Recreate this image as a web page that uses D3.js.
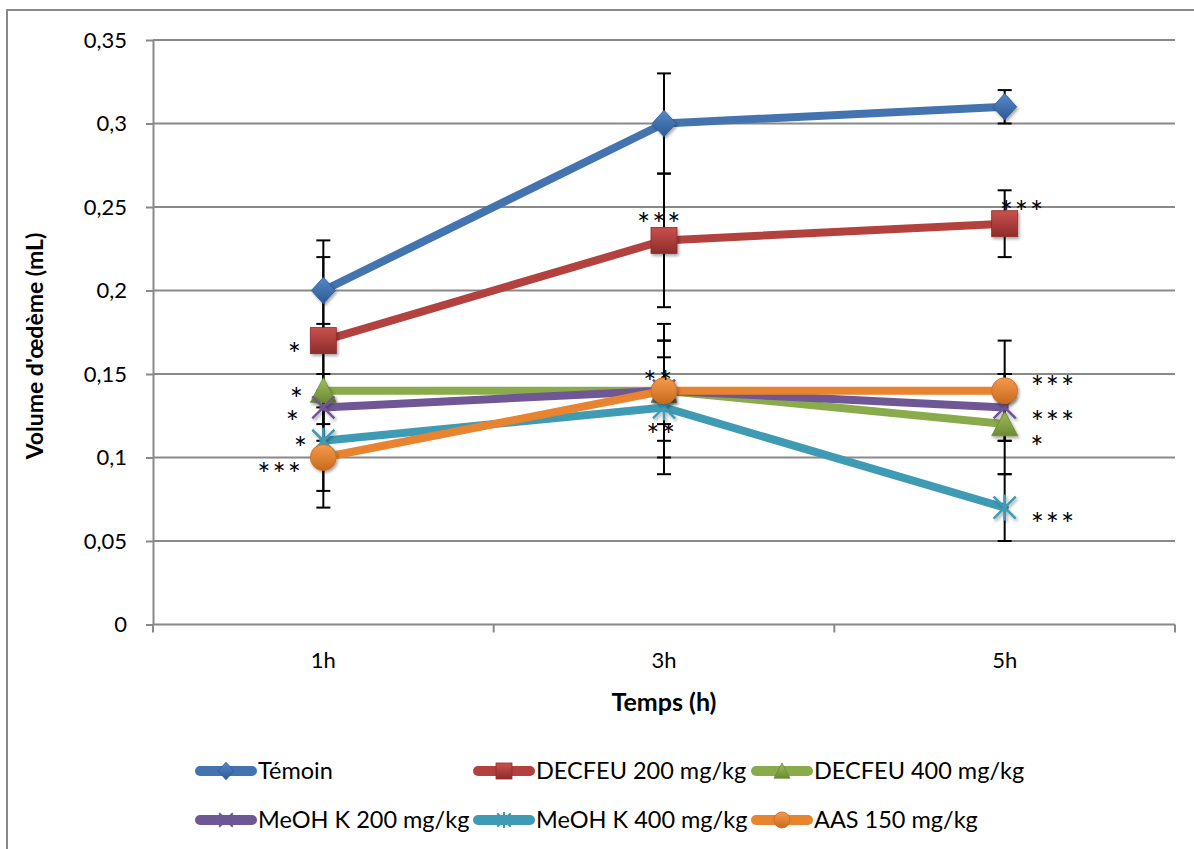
<!DOCTYPE html>
<html>
<head>
<meta charset="utf-8">
<script src="https://cdn.jsdelivr.net/npm/d3@7"></script>
<style>
  html, body { margin: 0; padding: 0; background: #fff; }
  svg { display: block; }
  text { font-family: Lato, "Open Sans", sans-serif; fill: #000; }
</style>
</head>
<body>
<svg id="chart" width="1194" height="849"></svg>
<script>
// ---------- DATA ----------
const categories = ["1h", "3h", "5h"];
const seriesNames = ["Témoin", "DECFEU 200 mg/kg", "DECFEU 400 mg/kg", "MeOH K 200 mg/kg", "MeOH K 400 mg/kg", "AAS 150 mg/kg"];
const temoin     = [0.20, 0.30, 0.31];
const decfeu200  = [0.17, 0.23, 0.24];
const decfeu400  = [0.14, 0.14, 0.12];
const meoh200    = [0.13, 0.14, 0.13];
const meoh400    = [0.11, 0.13, 0.07];
const aas150     = [0.10, 0.14, 0.14];
const errTemoin    = [0.03, 0.03, 0.01];
const errDecfeu200 = [0.05, 0.04, 0.02];
const errDecfeu400 = [0.04, 0.04, 0.03];
const errMeoh200   = [0.02, 0.02, 0.02];
const errMeoh400   = [0.03, 0.04, 0.02];
const errAas150    = [0.03, 0.03, 0.03];
const sigTemoin    = ["", "", ""];
const sigDecfeu200 = ["*", "***", "***"];
const sigDecfeu400 = ["*", "", "*"];
const sigMeoh200   = ["*", "**", "***"];
const sigMeoh400   = ["*", "**", "***"];
const sigAas150    = ["***", "", "***"];
const yTicks = [0, 0.05, 0.1, 0.15, 0.2, 0.25, 0.3, 0.35];
const yTitle = "Volume d'œdème (mL)";
const xTitle = "Temps (h)";

// ---------- STYLE ----------
const styles = [
  { line: "#4374b0", light: "#5589c8", dark: "#2d5a94", marker: "diamond" },
  { line: "#b3423f", light: "#c9514e", dark: "#8e2c2a", marker: "square" },
  { line: "#8aab4b", light: "#a0c05e", dark: "#6c8a33", marker: "triangle" },
  { line: "#6f5694", light: "#8266a6", dark: "#5a437c", marker: "x" },
  { line: "#3f9bb4", light: "#4fb0ca", dark: "#2f8099", marker: "star" },
  { line: "#e8832f", light: "#f49a4e", dark: "#c96a1c", marker: "circle" }
];
// visible-centre offsets of significance labels from their point [dx, dy]
const labelPlacement = [
  [null, null, null],
  [[-28, 6], [-5, -23], [17, -19]],
  [[-26, 1], null, [33, 16]],
  [[-30, 8], [-6, -16], [48, 8]],
  [[-22, 0], [-3, 21], [48, 9]],
  [[-44, 9], null, [48, -11]]
];

const values = [temoin, decfeu200, decfeu400, meoh200, meoh400, aas150];
const errors = [errTemoin, errDecfeu200, errDecfeu400, errMeoh200, errMeoh400, errAas150];
const sigs = [sigTemoin, sigDecfeu200, sigDecfeu400, sigMeoh200, sigMeoh400, sigAas150];
const series = seriesNames.map((name, i) => ({
  name, i, style: styles[i],
  points: categories.map((c, j) => ({ c, j, v: values[i][j], e: errors[i][j], sig: sigs[i][j] }))
}));

// ---------- LAYOUT ----------
const svg = d3.select("#chart");
const X0 = 153, X1 = 1175, Y0 = 624.5, Y1 = 40;
const x = d3.scalePoint().domain(categories).range([X0, X1]).padding(0.5);
const y = d3.scaleLinear().domain([0, 0.35]).range([Y0, Y1]);
const grey = "#898989";

const defs = svg.append("defs");
series.forEach(s => {
  const g = defs.append("linearGradient").attr("id", "grad" + s.i)
    .attr("x1", 0).attr("y1", 0).attr("x2", 0).attr("y2", 1);
  g.append("stop").attr("offset", "0%").attr("stop-color", s.style.light);
  g.append("stop").attr("offset", "100%").attr("stop-color", s.style.dark);
});
const f = defs.append("filter").attr("id", "shadow").attr("x", "-50%").attr("y", "-50%").attr("width", "200%").attr("height", "200%");
f.append("feDropShadow").attr("dx", 1.5).attr("dy", 2).attr("stdDeviation", 1.5).attr("flood-color", "#000").attr("flood-opacity", 0.35);

// outer border
svg.append("rect").attr("x", 7).attr("y", 10).attr("width", 1300).attr("height", 1000)
  .attr("fill", "#fff").attr("stroke", grey).attr("stroke-width", 2);

// gridlines
svg.append("g").attr("class", "grid")
  .selectAll("line").data(yTicks.filter(t => t > 0)).join("line")
  .attr("x1", X0).attr("x2", X1)
  .attr("y1", d => y(d)).attr("y2", d => y(d))
  .attr("stroke", grey).attr("stroke-width", 2);

// y axis
const fmt = d => String(+d.toFixed(2)).replace(".", ",");
const yAxis = svg.append("g").attr("transform", `translate(${X0},0)`)
  .call(d3.axisLeft(y).tickValues(yTicks).tickFormat(fmt).tickSizeInner(7).tickSizeOuter(0).tickPadding(19));
yAxis.select(".domain").attr("stroke", grey).attr("stroke-width", 2);
yAxis.selectAll(".tick line").attr("stroke", grey).attr("stroke-width", 2);
yAxis.selectAll(".tick text").attr("font-family", "Lato").attr("font-size", 22).attr("fill", "#000");

// x axis
const xAxisG = svg.append("g");
xAxisG.append("line").attr("x1", X0).attr("x2", X1).attr("y1", Y0).attr("y2", Y0)
  .attr("stroke", grey).attr("stroke-width", 2);
const step = x.step();
const bounds = [0, 1, 2, 3].map(k => X0 + k * step);
xAxisG.selectAll("line.tk").data(bounds).join("line").attr("class", "tk")
  .attr("x1", d => d).attr("x2", d => d).attr("y1", Y0).attr("y2", Y0 + 8)
  .attr("stroke", grey).attr("stroke-width", 2);
xAxisG.selectAll("text").data(categories).join("text")
  .attr("x", d => x(d)).attr("y", 668).attr("text-anchor", "middle")
  .attr("font-size", 22).text(d => d);

// titles
svg.append("text").attr("x", 664).attr("y", 711).attr("text-anchor", "middle")
  .attr("font-size", 25).attr("font-weight", "bold").text(xTitle);
svg.append("text").attr("transform", "translate(43,346) rotate(-90)").attr("text-anchor", "middle")
  .attr("font-size", 23).attr("font-weight", "bold").text(yTitle);

// error bars
const eb = svg.append("g").attr("class", "errorbars");
series.forEach(s => {
  s.points.forEach(p => {
    const cx = x(p.c);
    eb.append("line").attr("x1", cx).attr("x2", cx).attr("y1", y(p.v - p.e)).attr("y2", y(p.v + p.e))
      .attr("stroke", "#000").attr("stroke-width", 2);
    [p.v - p.e, p.v + p.e].forEach(v => {
      eb.append("line").attr("x1", cx - 7).attr("x2", cx + 7).attr("y1", y(v)).attr("y2", y(v))
        .attr("stroke", "#000").attr("stroke-width", 2);
    });
  });
});

// markers
function drawMarker(g, type, cx, cy, sz, st, gradId, thin) {
  const h = sz / 2;
  if (type === "diamond") {
    g.append("path").attr("d", `M${cx},${cy - h * 1.1}L${cx + h},${cy}L${cx},${cy + h * 1.1}L${cx - h},${cy}Z`)
      .attr("fill", `url(#${gradId})`).attr("stroke", st.dark).attr("stroke-width", 0.8);
  } else if (type === "square") {
    g.append("rect").attr("x", cx - h).attr("y", cy - h).attr("width", sz).attr("height", sz)
      .attr("fill", `url(#${gradId})`).attr("stroke", st.dark).attr("stroke-width", 0.8);
  } else if (type === "triangle") {
    g.append("path").attr("d", `M${cx},${cy - h}L${cx + h},${cy + h * 0.9}L${cx - h},${cy + h * 0.9}Z`)
      .attr("fill", `url(#${gradId})`).attr("stroke", st.dark).attr("stroke-width", 0.8);
  } else if (type === "circle") {
    g.append("circle").attr("cx", cx).attr("cy", cy).attr("r", h)
      .attr("fill", `url(#${gradId})`).attr("stroke", st.dark).attr("stroke-width", 0.8);
  } else if (type === "x" || type === "star") {
    const d = h * 0.85;
    let path = `M${cx - d},${cy - d}L${cx + d},${cy + d}M${cx - d},${cy + d}L${cx + d},${cy - d}`;
    if (type === "star") path += `M${cx},${cy - h}L${cx},${cy + h}`;
    g.append("path").attr("d", path).attr("stroke", st.line).attr("stroke-width", thin ? 2 : 2.5).attr("fill", "none");
  }
}

const line = d3.line().x(p => x(p.c)).y(p => y(p.v));
series.forEach(s => {
  const g = svg.append("g").attr("class", "series");
  g.append("path").datum(s.points).attr("d", line)
    .attr("fill", "none").attr("stroke", s.style.line).attr("stroke-width", 8)
    .attr("stroke-linejoin", "round").attr("stroke-linecap", "round");
  const mg = g.append("g").attr("filter", "url(#shadow)");
  s.points.forEach(p => drawMarker(mg, s.style.marker, x(p.c), y(p.v), s.style.marker === "diamond" ? 24 : 26, s.style, "grad" + s.i));
});

// significance labels
const FS = 31, PITCH = 14.5;
const lab = svg.append("g").attr("class", "labels");
series.forEach(s => {
  s.points.forEach(p => {
    const pl = labelPlacement[s.i][p.j];
    if (!p.sig || !pl) return;
    const n = p.sig.length;
    const cx = x(p.c) + pl[0], cy = y(p.v) + pl[1];
    const left = cx - ((n - 1) * PITCH + 13) / 2 - 1;
    lab.append("text").attr("x", left).attr("y", cy + 18)
      .attr("font-family", "'DejaVu Sans', sans-serif")
      .attr("font-size", FS).attr("textLength", n * PITCH).attr("lengthAdjust", "spacing")
      .text(p.sig);
  });
});

// legend
const legendCols = [196, 474, 752];
const legendRows = [771, 820];
const lg = svg.append("g").attr("class", "legend");
series.forEach((s, k) => {
  const lx = legendCols[k % 3], ly = legendRows[Math.floor(k / 3)];
  lg.append("line").attr("x1", lx + 4).attr("x2", lx + 56).attr("y1", ly).attr("y2", ly)
    .attr("stroke", s.style.line).attr("stroke-width", 10).attr("stroke-linecap", "round");
  drawMarker(lg, s.style.marker, lx + 30, ly, 16, s.style, "grad" + s.i, true);
  lg.append("text").attr("x", lx + 62).attr("y", ly + 8).attr("font-size", 23.5).text(s.name);
});
</script>
</body>
</html>
